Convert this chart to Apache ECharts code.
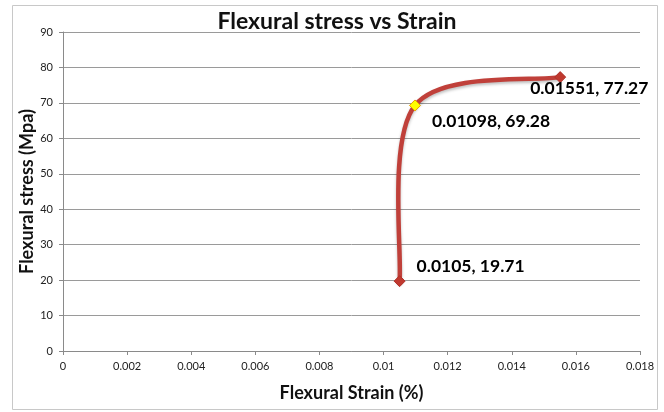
<!DOCTYPE html>
<html>
<head>
<meta charset="utf-8">
<script src="https://cdn.jsdelivr.net/npm/echarts@6/dist/echarts.min.js"></script>
<style>
html,body{margin:0;padding:0;background:#fff;}
#c{width:664px;height:412px;}
</style>
</head>
<body>
<div id="c"></div>
<script>
var strain = [0.0105, 0.01098, 0.01551];
var stress = [19.71, 69.28, 77.27];
var labelText = ['0.0105, 19.71', '0.01098, 69.28', '0.01551, 77.27'];
var xTicks = [0, 0.002, 0.004, 0.006, 0.008, 0.01, 0.012, 0.014, 0.016, 0.018];
var yTicks = [0, 10, 20, 30, 40, 50, 60, 70, 80, 90];

var labelOffsets = [[6, -15], [6, 16], [-41, 11]];
var markerFill = ['#C0392F', '#FFFF00', '#C0392F'];
var markerBorder = ['#B03028', '#E8A000', '#B03028'];
var lineColor = '#C0403A';

var chart = echarts.init(document.getElementById('c'));

var pts = strain.map(function (x, i) {
  return {
    value: [x, stress[i]],
    itemStyle: { color: markerFill[i], borderColor: markerBorder[i], borderWidth: 1, opacity: 1 },
    label: {
      show: true,
      position: 'right',
      offset: labelOffsets[i],
      formatter: labelText[i],
      fontFamily: 'Lato',
      fontWeight: 'bold',
      fontSize: 17.5,
      color: '#000',
      opacity: 1
    }
  };
});

// Smoothed curve (Catmull-Rom style, like a spreadsheet "smoothed line"),
// each segment drawn from the data through the axes via api.coord.
function renderSegment(params, api) {
  var i = params.dataIndex;
  var n = strain.length;
  if (i >= n - 1) return null;
  function P(k) {
    k = Math.max(0, Math.min(n - 1, k));
    return api.coord([strain[k], stress[k]]);
  }
  var p0 = P(i - 1), p1 = P(i), p2 = P(i + 1), p3 = P(i + 2);
  var c1 = [p1[0] + (p2[0] - p0[0]) / 6, p1[1] + (p2[1] - p0[1]) / 6];
  var c2 = [p2[0] - (p3[0] - p1[0]) / 6, p2[1] - (p3[1] - p1[1]) / 6];
  return {
    type: 'path',
    shape: {
      pathData: 'M' + p1[0] + ' ' + p1[1] + ' C' + c1[0] + ' ' + c1[1] + ' ' +
        c2[0] + ' ' + c2[1] + ' ' + p2[0] + ' ' + p2[1]
    },
    style: {
      fill: 'none', stroke: lineColor, lineWidth: 4.5, lineCap: 'round',
      shadowColor: 'rgba(0,0,0,0.25)', shadowBlur: 3, shadowOffsetY: 2
    }
  };
}

chart.setOption({
  animation: false,
  backgroundColor: '#fff',
  graphic: [{
    type: 'rect',
    shape: { x: 12.5, y: 5.5, width: 645, height: 404 },
    style: { fill: 'none', stroke: '#c8c8c8', lineWidth: 1 },
    z: -1
  }],
  title: {
    text: 'Flexural stress vs Strain',
    left: 332, top: 5, textAlign: 'center',
    textStyle: { fontFamily: 'Lato', fontWeight: 'bold', fontSize: 23, color: '#111' }
  },
  grid: { left: 63, right: 24, top: 32, bottom: 61 },
  xAxis: {
    type: 'value', min: 0, max: 0.018, interval: 0.002,
    name: 'Flexural Strain (%)', nameLocation: 'middle', nameGap: 33,
    nameMoveOverlap: false,
    nameTextStyle: { fontFamily: 'Lato', fontWeight: 'bold', fontSize: 18, color: '#111' },
    axisLine: { show: true, lineStyle: { color: '#8a8a8a' } },
    axisTick: { show: true, length: 4, lineStyle: { color: '#8a8a8a' } },
    axisLabel: { fontFamily: 'Lato', fontSize: 11, color: '#222', margin: 10,
      formatter: function (v) { return String(+v.toFixed(3)); } },
    splitLine: { show: false }
  },
  yAxis: {
    type: 'value', min: 0, max: 90, interval: 10,
    name: 'Flexural stress (Mpa)', nameLocation: 'middle', nameGap: 27,
    nameMoveOverlap: false,
    nameTextStyle: { fontFamily: 'Lato', fontWeight: 'bold', fontSize: 18, color: '#111' },
    axisLine: { show: true, lineStyle: { color: '#8a8a8a' } },
    axisTick: { show: true, length: 4, lineStyle: { color: '#8a8a8a' } },
    axisLabel: { fontFamily: 'Lato', fontSize: 11, color: '#222', margin: 10 },
    splitLine: { show: true, lineStyle: { color: '#9a9a9a', width: 1 } }
  },
  series: [{
    type: 'custom',
    renderItem: renderSegment,
    data: strain.map(function (x, i) { return [x, stress[i]]; }),
    z: 2,
    silent: true
  }, {
    type: 'scatter',
    data: pts,
    symbol: 'diamond',
    symbolSize: 11,
    itemStyle: { opacity: 1 },
    z: 3
  }]
});
</script>
</body>
</html>
